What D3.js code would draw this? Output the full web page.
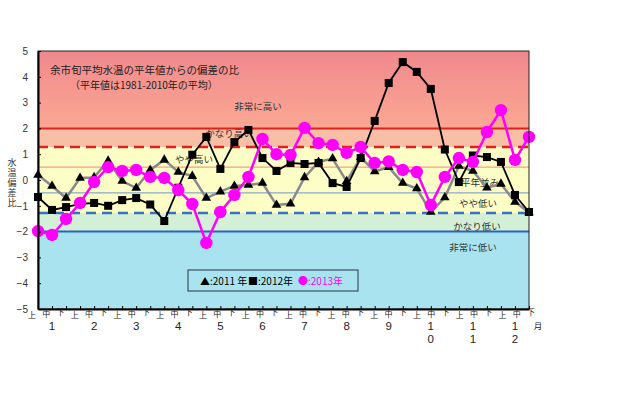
<!DOCTYPE html>
<html>
<head>
<meta charset="utf-8">
<script src="https://cdn.jsdelivr.net/npm/d3@7"></script>
<style>
  body { margin: 0; background: #fff; }
  svg { display: block; font-family: "Noto Sans CJK JP", "Noto Sans", sans-serif; }
</style>
</head>
<body>
<div id="chart"></div>
<script>
// 旬 (dekad) labels and months
const dekads = ["上", "中", "下"];
const months = ["1", "2", "3", "4", "5", "6", "7", "8", "9", "10", "11", "12"];
const yTicks = [-5, -4, -3, -2, -1, 0, 1, 2, 3, 4, 5];

// deviation ratio per dekad, Jan上 .. Dec下
const series2011 = [0.19, -0.23, -0.7, 0.08, 0.1, 0.74, -0.04, -0.31, 0.39, 0.78, 0.31, 0.15,
  -0.7, -0.45, -0.23, -0.19, -0.12, -0.97, -0.92, 0.1, 0.7, 0.83, -0.05, 0.88,
  0.33, 0.5, -0.12, -0.33, -1.24, -0.68, 0.54, 0.35, -0.3, -0.15, -0.85, -1.26];
const series2012 = [-0.66, -1.16, -1.05, -0.93, -0.89, -1.0, -0.78, -0.7, -0.95, -1.59, -0.3, 0.98,
  1.67, 0.43, 1.47, 1.94, 0.85, 0.35, 0.66, 0.62, 0.66, -0.12, -0.27, 0.85,
  2.29, 3.76, 4.57, 4.19, 3.53, 1.18, -0.08, 0.95, 0.89, 0.7, -0.58, -1.24];
const series2013 = [-1.98, -2.13, -1.51, -0.89, -0.08, 0.5, 0.35, 0.39, 0.12, 0.08, -0.39, -0.93,
  -2.44, -1.24, -0.58, 0.12, 1.59, 1.0, 0.97, 2.02, 1.43, 1.36, 1.05, 1.28,
  0.66, 0.72, 0.39, 0.31, -0.97, 0.12, 0.85, 0.7, 1.86, 2.71, 0.78, 1.67];

// class boundaries and names
const levelLines = [2, 1.28, 0.5, -0.5, -1.28, -2];
const levelNames = ["非常に高い", "かなり高い", "やや高い", "平年並み", "やや低い", "かなり低い", "非常に低い"];
const levelNameValues = [2.83, 1.78, 0.78, -0.12, -0.93, -1.82, -2.64];

const margin = { top: 51, right: 111, bottom: 87, left: 38 };
const width = 640 - margin.left - margin.right;
const height = 396 - margin.top - margin.bottom;

const keys = [];
months.forEach(m => dekads.forEach(d => keys.push(m + d)));

const svg = d3.select("#chart").append("svg")
  .attr("width", 640).attr("height", 396);
const g = svg.append("g").attr("transform", `translate(${margin.left},${margin.top})`);

const x = d3.scalePoint().domain(keys).range([0, width]);
const xLab = d3.scalePoint().domain(keys).range([-6, width + 2]);
const y = d3.scaleLinear().domain([-5, 5]).range([height, 0]);

// background bands
const defs = svg.append("defs");
const grad = defs.append("linearGradient").attr("id", "hot").attr("x1", 0).attr("y1", 0).attr("x2", 0).attr("y2", 1);
grad.append("stop").attr("offset", "0%").attr("stop-color", "#f0888c");
grad.append("stop").attr("offset", "100%").attr("stop-color", "#fba894");

const bands = [
  [5, 2, "url(#hot)"],
  [2, 1.28, "#f8bfa6"],
  [1.28, -1.28, "#fdfdc6"],
  [-1.28, -2, "#d3efd6"],
  [-2, -5, "#a9e3ef"]
];
g.selectAll(".band").data(bands).enter().append("rect")
  .attr("x", 0).attr("width", width)
  .attr("y", d => y(d[0])).attr("height", d => y(d[1]) - y(d[0]))
  .attr("fill", d => d[2]);

// boundary lines
const lineStyle = {
  "2": ["#e0201c", 2, null],
  "1.28": ["#e0201c", 2.5, "10,6"],
  "0.5": ["#f08a78", 1, null],
  "-0.5": ["#6a95cc", 1, null],
  "-1.28": ["#3a70c0", 2.5, "10,6"],
  "-2": ["#2a62c0", 2, null]
};
levelLines.forEach(v => {
  const s = lineStyle[String(v)];
  g.append("line").attr("x1", 0).attr("x2", width).attr("y1", y(v)).attr("y2", y(v))
    .attr("stroke", s[0]).attr("stroke-width", s[1]).attr("stroke-dasharray", s[2]);
});

// class names
const nameX = [220, 191, 156, 442, 440, 439, 435];
g.selectAll(".lvl").data(levelNames).enter().append("text")
  .attr("x", (d, i) => nameX[i]).attr("y", (d, i) => y(levelNameValues[i]))
  .attr("dy", "0.35em").attr("text-anchor", "middle")
  .attr("fill", "#333").style("font-size", "9.5px").text(d => d);

// title
g.append("text").attr("x", 12).attr("y", 23.2).attr("fill", "#222")
  .style("font-size", "10.5px").text("余市旬平均水温の平年値からの偏差の比");
g.append("text").attr("x", 32).attr("y", 37.9).attr("fill", "#222")
  .style("font-size", "10px").text("（平年値は1981-2010年の平均）");

// series
const line = d3.line().x((d, i) => x(keys[i])).y(d => y(d));

g.append("path").datum(series2011).attr("d", line).attr("fill", "none")
  .attr("stroke", "#8a8a8a").attr("stroke-width", 2.5);
g.selectAll(".tri").data(series2011).enter().append("path")
  .attr("d", d3.symbol().type(d3.symbolTriangle).size(40))
  .attr("transform", (d, i) => `translate(${x(keys[i])},${y(d)})`).attr("fill", "#000");

g.append("path").datum(series2012).attr("d", line).attr("fill", "none")
  .attr("stroke", "#000").attr("stroke-width", 1.8);
g.selectAll(".sq").data(series2012).enter().append("rect")
  .attr("x", (d, i) => x(keys[i]) - 4).attr("y", d => y(d) - 4)
  .attr("width", 8).attr("height", 8).attr("fill", "#000");

g.append("path").datum(series2013).attr("d", line).attr("fill", "none")
  .attr("stroke", "#ff00ff").attr("stroke-width", 2.5);
g.selectAll(".dot").data(series2013).enter().append("circle")
  .attr("cx", (d, i) => x(keys[i])).attr("cy", d => y(d)).attr("r", 6.2).attr("fill", "#ff00ff");

// frame and axes
g.append("rect").attr("width", width).attr("height", height)
  .attr("fill", "none").attr("stroke", "#222").attr("stroke-width", 1);

const yAxis = g.append("g").call(d3.axisLeft(y).tickValues(yTicks).tickSizeInner(-3).tickSizeOuter(0).tickPadding(10));
yAxis.select(".domain").attr("stroke", "#000").attr("stroke-width", 2);
yAxis.selectAll("text").attr("fill", "#333").style("font-size", "10px").style("font-family", "Liberation Sans, Arial, sans-serif");

const xAxis = g.append("g").attr("transform", `translate(0,${height})`)
  .call(d3.axisBottom(x).tickSizeInner(-3).tickSizeOuter(0).tickFormat(""));
xAxis.select(".domain").attr("stroke", "#000").attr("stroke-width", 2);

// 上中下 labels
const dekadDy = { "上": 6, "中": 5, "下": 3 };
g.selectAll(".dk").data(keys).enter().append("text")
  .attr("x", d => xLab(d)).attr("y", d => height + dekadDy[d.slice(-1)])
  .attr("dy", "0.35em").attr("text-anchor", "middle").attr("fill", "#222")
  .style("font-size", "8px").text(d => d.slice(-1));

// month numbers, two-digit months stacked
months.forEach(m => {
  const cx = x(m + "中");
  m.split("").forEach((ch, j) => {
    g.append("text").attr("x", cx).attr("y", height + 17 + j * 13)
      .attr("dy", "0.35em").attr("text-anchor", "middle").attr("fill", "#222")
      .style("font-size", "11.5px").style("font-family", "Liberation Sans, Arial, sans-serif").text(ch);
  });
});
g.append("text").attr("x", width + 9).attr("y", height + 17).attr("dy", "0.35em")
  .attr("text-anchor", "middle").attr("fill", "#222").style("font-size", "8.5px").text("月");

// y title, vertical
svg.append("text").attr("x", 12).attr("y", 158)
  .style("writing-mode", "vertical-rl").style("letter-spacing", "1px")
  .attr("fill", "#333").style("font-size", "9px").text("水温偏差比");

// legend
const lg = svg.append("g").attr("transform", "translate(188,270)");
lg.append("rect").attr("width", 170).attr("height", 21).attr("fill", "none")
  .attr("stroke", "#3c5060").attr("stroke-width", 1.2);
const legendItems = [["▲:2011 年", "#000", 12], ["■:2012年", "#000", 60], ["●:2013年", "#ff00ff", 110]];
legendItems.forEach(d => {
  lg.append("text").attr("x", d[2]).attr("y", 11).attr("dy", "0.35em")
    .attr("fill", d[1]).style("font-size", "10px").text(d[0]);
});
</script>
</body>
</html>
